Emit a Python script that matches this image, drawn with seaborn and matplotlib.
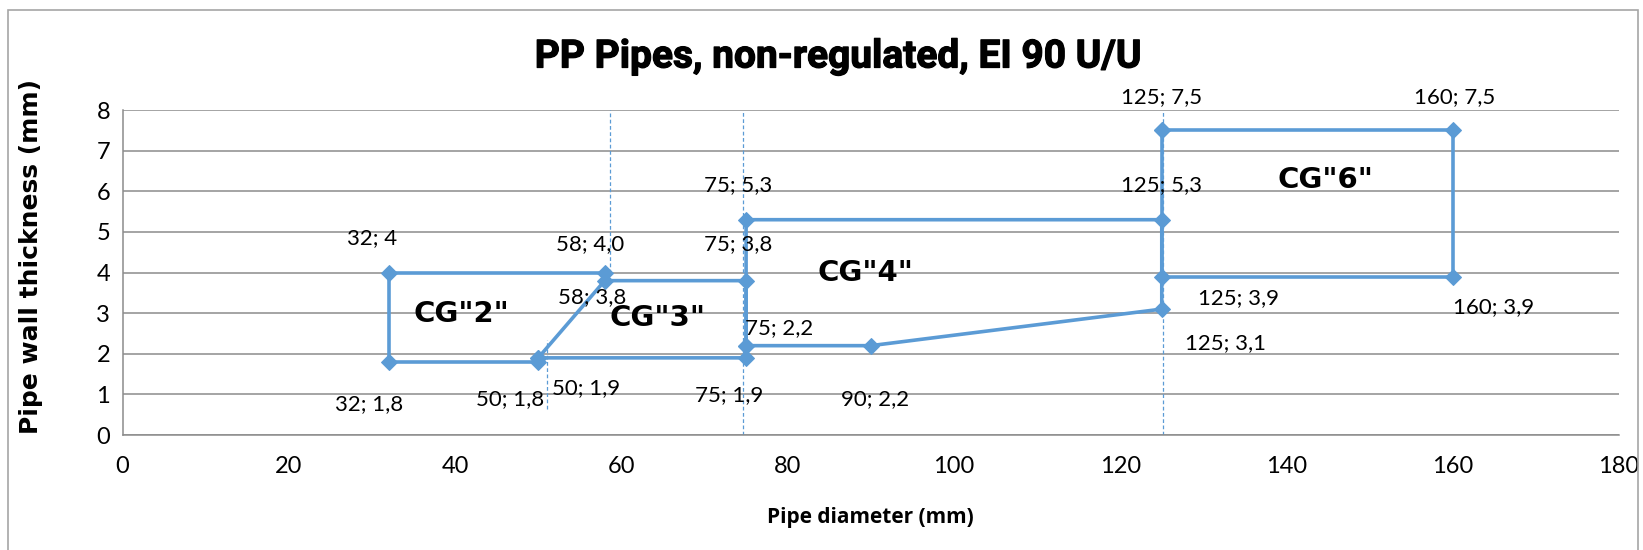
import matplotlib
matplotlib.use("Agg")
import matplotlib.pyplot as plt
import matplotlib.patheffects as pe
import seaborn as sns
import pandas as pd
from matplotlib.patches import Rectangle

sns.set_theme(style="white")
plt.rcParams['font.family'] = ['Lato', 'DejaVu Sans']
plt.rcParams['text.color'] = 'black'

# ---- data ----
cg2_x = [58, 32, 32, 50]
cg2_y = [4.0, 4.0, 1.8, 1.8]
cg3_x = [50, 58, 75, 75, 50]
cg3_y = [1.9, 3.8, 3.8, 1.9, 1.9]
cg4_x = [75, 75, 125, 125, 90, 75]
cg4_y = [2.2, 5.3, 5.3, 3.1, 2.2, 2.2]
cg6_x = [125, 160, 160, 125, 125]
cg6_y = [7.5, 7.5, 3.9, 3.9, 7.5]

point_labels = ["32; 4", "58; 4,0", "32; 1,8", "50; 1,8", "50; 1,9", "58; 3,8",
                "75; 3,8", "75; 5,3", "125; 5,3", "75; 2,2", "90; 2,2", "75; 1,9",
                "125; 3,1", "125; 7,5", "160; 7,5", "125; 3,9", "160; 3,9"]
group_labels = ['CG"2"', 'CG"3"', 'CG"4"', 'CG"6"']

guide_x = [58.6, 74.6, 51.0, 125.2]
guide_lo = [4.0, 0.0, 0.65, 0.0]
guide_hi = [8.0, 8.0, 2.35, 7.95]

x_ticks = [0, 20, 40, 60, 80, 100, 120, 140, 160, 180]
y_ticks = [0, 1, 2, 3, 4, 5, 6, 7, 8]

# ---- placement (layout only) ----
point_label_pos = [(30, 4.85), (56.2, 4.70), (29.7, 0.77), (46.6, 0.88), (55.8, 1.16),
                   (56.5, 3.40), (74, 4.70), (74, 6.14), (125, 6.14), (79, 2.63),
                   (90.5, 0.88), (72.9, 0.98), (132.7, 2.27), (125, 8.31), (160.2, 8.31),
                   (134.2, 3.38), (164.9, 3.15)]
group_label_pos = [(40.7, 2.97), (64.3, 2.89), (89.4, 4.0), (144.7, 6.27)]

BLUE = "#5B9BD5"
GRID = "#8C8C8C"

fig = plt.figure(figsize=(16.43, 5.5), dpi=100)
ax = fig.add_axes([0.0746, 0.209, 0.9108, 0.591])

# chart border
fig.patches.append(Rectangle((8 / 1643, -0.05), 1630 / 1643, 1.05 - 10 / 550,
                             transform=fig.transFigure, fill=False,
                             edgecolor="#A6A6A6", linewidth=1.2))

for gx, lo, hi in zip(guide_x, guide_lo, guide_hi):
    ax.vlines(gx, lo, hi, colors=BLUE, linestyles=(0, (3, 2)), linewidth=0.9, zorder=2)

for xs, ys in [(cg2_x, cg2_y), (cg3_x, cg3_y), (cg4_x, cg4_y), (cg6_x, cg6_y)]:
    df = pd.DataFrame({"x": xs, "y": ys})
    sns.lineplot(data=df, x="x", y="y", sort=False, estimator=None, ax=ax,
                 color=BLUE, linewidth=2.6, marker="D", markersize=8.5,
                 markeredgecolor=BLUE, zorder=3)

for txt, (px, py) in zip(point_labels, point_label_pos):
    ax.text(px, py, txt, ha="center", va="center", fontsize=16, color="black", zorder=4)

for txt, (px, py) in zip(group_labels, group_label_pos):
    ax.text(px, py, txt, ha="center", va="center", fontsize=21, fontweight="bold",
            family="DejaVu Sans", color="black", zorder=4)

ax.set_xlim(0, 180)
ax.set_ylim(0, 8)
ax.set_xticks(x_ticks)
ax.set_yticks(y_ticks)
ax.tick_params(axis="both", labelsize=17, labelcolor="black", length=6, width=1,
               color=GRID, direction="out")
ax.tick_params(axis="x", pad=9)
ax.tick_params(axis="y", pad=3)
ax.grid(axis="y", color=GRID, linewidth=1.1)
ax.grid(axis="x", visible=False)
for side in ["top", "right"]:
    ax.spines[side].set_visible(False)
ax.spines["left"].set_color(GRID)
ax.spines["bottom"].set_color(GRID)
ax.spines["left"].set_linewidth(1.1)
ax.spines["bottom"].set_linewidth(1.1)

ax.set_xlabel("")
ax.set_ylabel("")
fig.text(870 / 1643, 1 - 517 / 550, "Pipe diameter (mm)", ha="center", va="center",
         fontsize=15, fontweight="bold", family="Open Sans", color="black")
fig.text(31 / 1643, 1 - 256 / 550, "Pipe wall thickness (mm)", ha="center", va="center",
         rotation=90, fontsize=18, fontweight="bold", family="DejaVu Sans", color="black")
fig.text(838 / 1643, 1 - 57 / 550, "PP Pipes, non-regulated, EI 90 U/U", ha="center",
         va="center", fontsize=28, fontweight="bold", family="Roboto", color="black",
         path_effects=[pe.withStroke(linewidth=0.9, foreground="black")])

fig.savefig("out.png", dpi=100)
